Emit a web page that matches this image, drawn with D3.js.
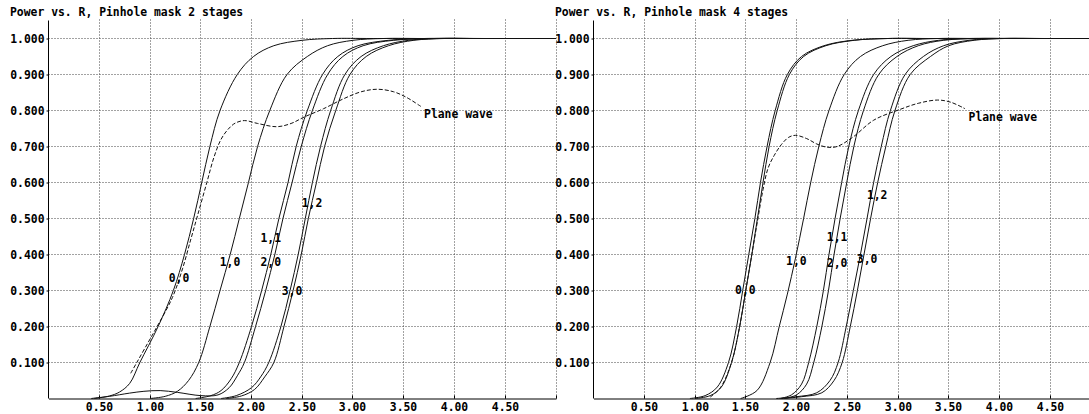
<!DOCTYPE html>
<html>
<head>
<meta charset="utf-8">
<script src="https://cdn.jsdelivr.net/npm/d3@7"></script>
<style>
body { margin: 0; background: #fff; }
svg text { font-family: "DejaVu Sans Mono", monospace; font-weight: bold; font-size: 11.4px; fill: #000; }
</style>
</head>
<body>
<svg id="chart" width="1089" height="414"></svg>
<script>
var titles = ["Power vs. R, Pinhole mask 2 stages", "Power vs. R, Pinhole mask 4 stages"];
var xTickValues = [0.5, 1, 1.5, 2, 2.5, 3, 3.5, 4, 4.5, 5];
var yTickValues = [0.1, 0.2, 0.3, 0.4, 0.5, 0.6, 0.7, 0.8, 0.9, 1.0];
var modeNames = ["0,0", "1,0", "1,1", "2,0", "3,0", "1,2"];
var planeName = "Plane wave";

// 2 stages: [R, power]
var mode00_2 = [[0.45,0],[0.6,0.007],[0.7,0.018],[0.8,0.042],[0.9,0.1],[1.08,0.2],[1.23,0.3],[1.34,0.4],[1.43,0.5],[1.51,0.6],[1.59,0.7],[1.69,0.8],[1.86,0.9],[2.02,0.95],[2.22,0.98],[2.5,0.995],[2.8,1],[3.2,1],[5,1]];
var mode10_2 = [[1.0,0],[1.15,0.006],[1.27,0.02],[1.38,0.05],[1.48,0.1],[1.59,0.2],[1.69,0.3],[1.79,0.4],[1.88,0.5],[1.97,0.6],[2.06,0.7],[2.18,0.8],[2.35,0.9],[2.55,0.95],[2.75,0.98],[3.0,0.995],[3.3,1],[3.7,1],[5,1]];
var mode11_2 = [[1.45,0],[1.6,0.008],[1.7,0.022],[1.8,0.055],[1.88,0.1],[2.0,0.2],[2.1,0.3],[2.19,0.4],[2.27,0.5],[2.36,0.6],[2.44,0.7],[2.55,0.8],[2.7,0.9],[2.85,0.95],[3.05,0.98],[3.35,0.995],[3.7,1],[4.1,1],[5,1]];
var mode20_2 = [[0.42,0],[0.6,0.006],[0.8,0.015],[0.94,0.02],[1.1,0.022],[1.27,0.017],[1.5,0.008],[1.67,0.01],[1.78,0.03],[1.86,0.063],[1.93,0.1],[2.04,0.2],[2.14,0.3],[2.23,0.4],[2.31,0.5],[2.4,0.6],[2.49,0.7],[2.6,0.8],[2.75,0.9],[2.9,0.95],[3.1,0.98],[3.4,0.995],[3.8,1],[4.2,1],[5,1]];
var mode30_2 = [[1.7,0],[1.85,0.008],[2.0,0.03],[2.09,0.06],[2.17,0.1],[2.29,0.2],[2.38,0.3],[2.46,0.4],[2.53,0.5],[2.6,0.6],[2.68,0.7],[2.78,0.8],[2.92,0.9],[3.08,0.95],[3.3,0.98],[3.55,0.995],[3.85,1],[4.2,1],[5,1]];
var mode12_2 = [[1.75,0],[1.9,0.007],[2.03,0.025],[2.13,0.06],[2.22,0.1],[2.32,0.2],[2.41,0.3],[2.49,0.4],[2.56,0.5],[2.64,0.6],[2.72,0.7],[2.83,0.8],[2.97,0.9],[3.13,0.95],[3.35,0.98],[3.6,0.995],[3.9,1],[4.3,1],[5,1]];
var plane_2 = [[0.81,0.07],[0.87,0.1],[0.95,0.14],[1.07,0.2],[1.22,0.28],[1.32,0.36],[1.4,0.44],[1.47,0.51],[1.56,0.6],[1.63,0.67],[1.7,0.72],[1.77,0.748],[1.84,0.765],[1.93,0.772],[2.06,0.764],[2.25,0.755],[2.39,0.764],[2.52,0.782],[2.71,0.805],[2.91,0.833],[3.08,0.852],[3.24,0.859],[3.4,0.852],[3.53,0.836],[3.67,0.811]];

// 4 stages
var mode00_4 = [[0.95,0],[1.1,0.008],[1.22,0.032],[1.33,0.1],[1.41,0.2],[1.47,0.3],[1.53,0.4],[1.59,0.5],[1.645,0.6],[1.71,0.7],[1.79,0.8],[1.91,0.9],[2.05,0.95],[2.27,0.98],[2.55,0.995],[2.9,1],[3.3,1],[5,1]];
var mode01_4 = [[1.0,0],[1.15,0.008],[1.26,0.032],[1.36,0.1],[1.44,0.2],[1.5,0.3],[1.56,0.4],[1.615,0.5],[1.67,0.6],[1.73,0.7],[1.81,0.8],[1.93,0.9],[2.07,0.95],[2.29,0.98],[2.57,0.995],[2.9,1],[3.3,1],[5,1]];
var mode10_4 = [[1.45,0],[1.61,0.022],[1.74,0.1],[1.83,0.2],[1.91,0.29],[1.99,0.39],[2.07,0.5],[2.14,0.6],[2.22,0.7],[2.32,0.8],[2.47,0.9],[2.63,0.95],[2.85,0.98],[3.1,0.995],[3.4,1],[3.8,1],[5,1]];
var mode11_4 = [[1.84,0],[1.95,0.01],[2.05,0.04],[2.12,0.1],[2.2,0.2],[2.265,0.3],[2.32,0.4],[2.38,0.5],[2.445,0.6],[2.515,0.7],[2.61,0.8],[2.76,0.9],[2.93,0.95],[3.15,0.98],[3.4,0.995],[3.7,1],[4.1,1],[5,1]];
var mode20_4 = [[1.88,0],[2.0,0.01],[2.1,0.04],[2.17,0.1],[2.25,0.2],[2.315,0.3],[2.37,0.4],[2.43,0.5],[2.495,0.6],[2.565,0.7],[2.66,0.8],[2.81,0.9],[2.99,0.95],[3.2,0.98],[3.45,0.995],[3.8,1],[4.2,1],[5,1]];
var mode30_4 = [[1.8,0],[2.0,0.005],[2.2,0.016],[2.33,0.05],[2.41,0.1],[2.49,0.2],[2.56,0.3],[2.63,0.4],[2.695,0.5],[2.76,0.6],[2.835,0.7],[2.925,0.8],[3.07,0.9],[3.25,0.95],[3.45,0.98],[3.7,0.995],[4.0,1],[4.4,1],[5,1]];
var mode12_4 = [[1.85,0],[2.05,0.005],[2.25,0.016],[2.37,0.05],[2.45,0.1],[2.53,0.2],[2.6,0.3],[2.665,0.4],[2.73,0.5],[2.8,0.6],[2.88,0.7],[2.97,0.8],[3.12,0.9],[3.32,0.95],[3.5,0.98],[3.75,0.995],[4.05,1],[4.45,1],[5,1]];
var plane_4 = [[1.15,0.004],[1.25,0.03],[1.36,0.1],[1.44,0.2],[1.5,0.3],[1.56,0.4],[1.62,0.5],[1.67,0.58],[1.72,0.64],[1.78,0.675],[1.85,0.705],[1.92,0.725],[1.99,0.731],[2.1,0.722],[2.2,0.707],[2.3,0.698],[2.4,0.7],[2.56,0.727],[2.76,0.773],[3.02,0.803],[3.2,0.82],[3.39,0.829],[3.52,0.823],[3.66,0.805]];

// where each curve name sits, in data units (R, power)
var labelAt_2 = [[1.286,0.336],[1.788,0.378],[2.19,0.447],[2.19,0.378],[2.399,0.30],[2.596,0.542]];
var labelAt_4 = [[1.496,0.302],[1.999,0.383],[2.40,0.45],[2.40,0.377],[2.696,0.388],[2.795,0.564]];
var planeLabelAt = [[3.70,0.789],[3.695,0.781]];

var panels = [
  { title: titles[0], modes: [mode00_2, mode10_2, mode11_2, mode20_2, mode30_2, mode12_2], plane: plane_2, labels: labelAt_2, planeLabel: planeLabelAt[0], left: 48.5 },
  { title: titles[1], modes: [mode00_4, mode01_4, mode10_4, mode11_4, mode20_4, mode30_4, mode12_4], plane: plane_4, labels: labelAt_4, planeLabel: planeLabelAt[1], left: 593.5 }
];

var svg = d3.select("#chart"),
  unitX = 101.5,
  bottom = 398.5,
  unitY = 360,
  crisp = function(v) { return Math.round(v - 0.5) + 0.5; };

panels.forEach(function(p) {
  var x = d3.scaleLinear().domain([0, 5]).range([p.left, p.left + 5 * unitX]),
    y = d3.scaleLinear().domain([0, 1]).range([bottom, bottom - unitY]),
    top = y(1.05),
    g = svg.append("g"),
    line = d3.line()
      .x(function(d) { return x(d[0]); })
      .y(function(d) { return y(d[1]); })
      .curve(d3.curveCatmullRom.alpha(0.5));

  // dotted grid
  g.selectAll(".hgrid")
    .data(yTickValues)
    .enter().append("line")
    .attr("x1", x(0)).attr("x2", x(5))
    .attr("y1", function(d) { return crisp(y(d)); })
    .attr("y2", function(d) { return crisp(y(d)); })
    .attr("stroke", "#444").attr("stroke-dasharray", "1,2");

  g.selectAll(".vgrid")
    .data(xTickValues)
    .enter().append("line")
    .attr("x1", function(d) { return crisp(x(d)); })
    .attr("x2", function(d) { return crisp(x(d)); })
    .attr("y1", bottom).attr("y2", top - 2)
    .attr("stroke", "#444").attr("stroke-dasharray", "1,2");

  // axes
  var yAxis = g.append("g")
    .attr("transform", "translate(" + x(0) + ",0)")
    .call(d3.axisLeft(y).tickValues(yTickValues).tickFormat(d3.format(".3f")).tickSize(2).tickPadding(2).tickSizeOuter(0));
  yAxis.select(".domain").attr("d", "M0," + top + "V" + bottom);

  var xAxis = g.append("g")
    .attr("transform", "translate(0," + bottom + ")")
    .call(d3.axisBottom(x).tickValues(xTickValues)
      .tickFormat(function(d) { return d < 5 ? d3.format(".2f")(d) : ""; })
      .tickSize(-3).tickPadding(4).tickSizeOuter(0));

  [yAxis, xAxis].forEach(function(a) {
    a.attr("font-family", null).attr("font-size", null);
    a.selectAll("path, line").attr("stroke", "#000");
  });
  xAxis.selectAll(".tick").attr("transform", function(d) { return "translate(" + crisp(x(d)) + ",0)"; });

  // curves
  g.selectAll(".mode")
    .data(p.modes)
    .enter().append("path")
    .attr("class", "mode")
    .attr("d", line)
    .attr("fill", "none")
    .attr("stroke", "#111")
    .attr("stroke-width", 1);

  g.append("path")
    .attr("d", line(p.plane))
    .attr("fill", "none")
    .attr("stroke", "#111")
    .attr("stroke-dasharray", "4,2");

  g.selectAll(".modeLabel")
    .data(p.labels)
    .enter().append("text")
    .attr("x", function(d) { return x(d[0]); })
    .attr("y", function(d) { return y(d[1]) + 4; })
    .attr("text-anchor", "middle")
    .text(function(d, i) { return modeNames[i]; });

  g.append("text")
    .attr("x", x(p.planeLabel[0]))
    .attr("y", y(p.planeLabel[1]) + 4)
    .text(planeName);

  g.append("text")
    .attr("x", p.left - 38.5)
    .attr("y", 16)
    .text(p.title);
});
</script>
</body>
</html>
